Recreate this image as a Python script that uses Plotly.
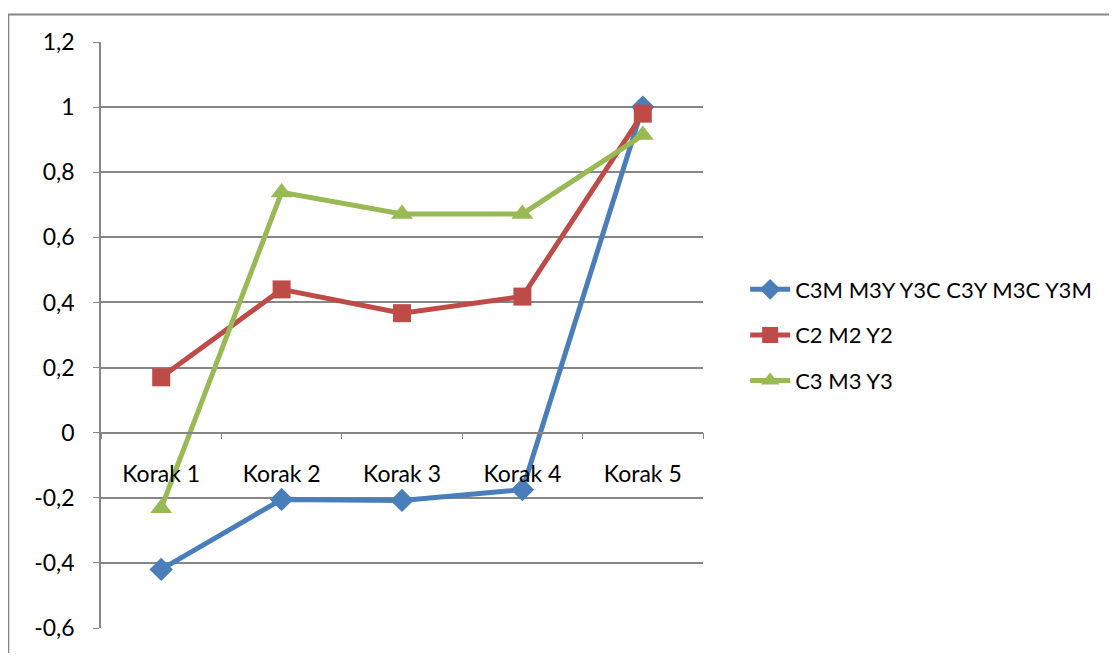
import plotly.graph_objects as go

categories = ["Korak 1", "Korak 2", "Korak 3", "Korak 4", "Korak 5"]
series_names = ["C3M M3Y Y3C C3Y M3C Y3M", "C2 M2 Y2", "C3 M3 Y3"]
blue_vals = [-0.42, -0.205, -0.208, -0.175, 1.0]
red_vals = [0.17, 0.44, 0.367, 0.418, 0.98]
green_vals = [-0.232, 0.738, 0.672, 0.672, 0.914]
y_tickvals = [-0.6, -0.4, -0.2, 0, 0.2, 0.4, 0.6, 0.8, 1.0, 1.2]
y_ticktext = ["-0,6", "-0,4", "-0,2", "0", "0,2", "0,4", "0,6", "0,8", "1", "1,2"]

colors = ["#4A7EBB", "#BE4B48", "#98B954"]
symbols = ["diamond", "square", "triangle-up"]
sizes = [18, 18, 19]

fig = go.Figure()
for i, (name, vals) in enumerate(zip(series_names, [blue_vals, red_vals, green_vals])):
    fig.add_trace(go.Scatter(
        x=categories, y=vals, name=name, mode="lines+markers",
        line=dict(color=colors[i], width=5),
        marker=dict(symbol=symbols[i], size=sizes[i], color=colors[i]),
        legendgroup=str(i),
    ))

W, H = 1101, 645
L, T = 93, 34
PW, PH = 604, 596
font_family = "Lato, 'Open Sans', sans-serif"
fig.update_layout(
    width=W, height=H,
    margin=dict(l=L, r=W - L - PW, t=T, b=H - T - PH),
    paper_bgcolor="white", plot_bgcolor="white",
    font=dict(family=font_family, size=23, color="black"),
    showlegend=True,
    legend=dict(x=1.07, y=0.5, xanchor="left", yanchor="middle",
                font=dict(size=22), tracegroupgap=14, itemwidth=40),
    xaxis=dict(type="category", anchor="free", position=1/3,
               showline=True, linecolor="#868686", linewidth=1.5,
               ticks="outside", tickson="boundaries", ticklen=6, tickcolor="#868686",
               showgrid=False, ticklabelstandoff=21, range=[-0.5, 4.5],
               zeroline=False),
    yaxis=dict(range=[-0.6, 1.2], tickvals=y_tickvals, ticktext=y_ticktext,
               showline=True, linecolor="#868686", linewidth=1.5,
               ticks="outside", ticklen=6, tickcolor="#868686",
               showgrid=True, gridcolor="#868686", gridwidth=1.5,
               zeroline=False, ticklabelstandoff=14),
)
fig.add_shape(type="rect", xref="paper", yref="paper",
              x0=(0 - L) / PW, x1=(1130 - L) / PW,
              y0=(T + PH - 700) / PH, y1=(T + PH - 6) / PH,
              line=dict(color="#868686", width=2), layer="below")
fig.write_html("out.html", config={"displayModeBar": False})
